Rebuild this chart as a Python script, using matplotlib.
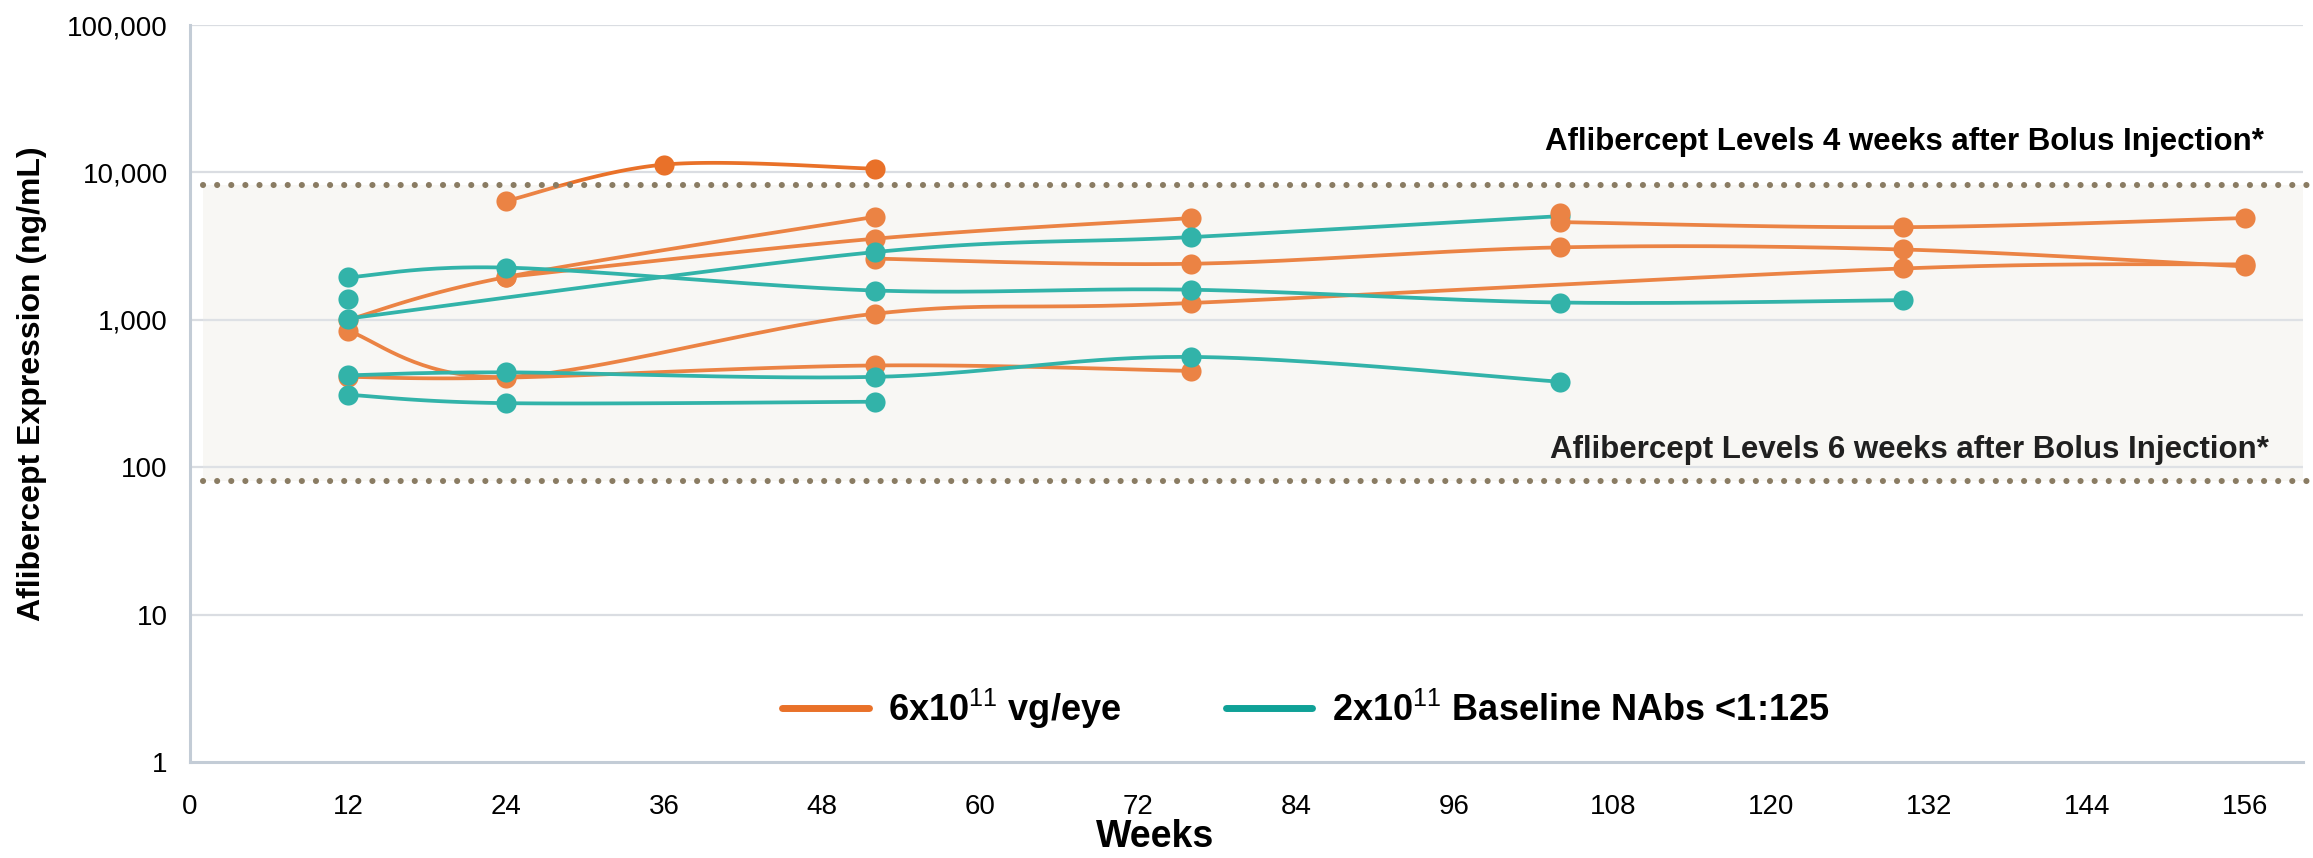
import matplotlib
matplotlib.use("Agg")
import matplotlib.pyplot as plt
import matplotlib.ticker as mticker
from matplotlib.lines import Line2D
import numpy as np

plt.rcParams["font.family"] = ["Liberation Sans", "DejaVu Sans"]
plt.rcParams["mathtext.fontset"] = "custom"
plt.rcParams["mathtext.rm"] = "Liberation Sans"
plt.rcParams["mathtext.bf"] = "Liberation Sans:bold"

ORANGE, TEAL = "#E97129", "#14A89D"
DOT, GRID, SPINE, BAND = "#8A7C63", "#DADDE2", "#C3CCD6", "#F7F6F3"

# 6x10^11 vg/eye patients (weeks, ng/mL)
o1_wk, o1_val = [24, 36, 52], [6400, 11300, 10600]
o2_wk, o2_val = [12, 24, 52], [1000, 1950, 5000]
o3_wk, o3_val = [24, 52, 76], [1950, 3550, 4900]
o4_wk, o4_val = [52, 76, 104, 130, 156], [2600, 2400, 3100, 3000, 2300]
o5_wk, o5_val = [12, 24, 52, 76, 130, 156], [840, 410, 1100, 1300, 2230, 2380]
o6_wk, o6_val = [12, 24, 52, 76], [410, 405, 490, 450]
o7_wk, o7_val = [104, 130, 156], [4600, 4250, 4900]
o8_wk, o8_val = [104], [5300]

# 2x10^11 baseline NAbs <1:125 patients
t1_wk, t1_val = [12, 24, 52, 76, 104, 130], [1940, 2260, 1580, 1600, 1310, 1360]
t2_wk, t2_val = [12], [1390]
t3_wk, t3_val = [12, 52, 76, 104], [1020, 2880, 3640, 5050]
t4_wk, t4_val = [12, 24, 52, 76, 104], [420, 440, 410, 560, 380]
t5_wk, t5_val = [12, 24, 52], [310, 272, 278]

upper_ref, lower_ref = 8150, 81
x_ticks = list(range(0, 157, 12))
y_ticks = [1, 10, 100, 1000, 10000, 100000]


def smooth(wk, val, n=40):
    """Excel-style smoothed line (Catmull-Rom bezier) in x / log10(y) space."""
    x = np.asarray(wk, float)
    y = np.log10(np.asarray(val, float))
    if len(x) < 3:
        return x, 10 ** y
    px, py = [], []
    for i in range(len(x) - 1):
        p0 = (x[max(i - 1, 0)], y[max(i - 1, 0)])
        p1, p2 = (x[i], y[i]), (x[i + 1], y[i + 1])
        p3 = (x[min(i + 2, len(x) - 1)], y[min(i + 2, len(x) - 1)])
        c1 = (p1[0] + (p2[0] - p0[0]) / 6, p1[1] + (p2[1] - p0[1]) / 6)
        c2 = (p2[0] - (p3[0] - p1[0]) / 6, p2[1] - (p3[1] - p1[1]) / 6)
        t = np.linspace(0, 1, n)
        for k in range(2):
            b = ((1 - t) ** 3 * p1[k] + 3 * (1 - t) ** 2 * t * c1[k]
                 + 3 * (1 - t) * t ** 2 * c2[k] + t ** 3 * p2[k])
            (px if k == 0 else py).extend(b)
    return np.array(px), 10 ** np.array(py)


fig = plt.figure(figsize=(23.13, 8.58), dpi=100)
ax = fig.add_axes([190 / 2313, 96 / 858, 2113 / 2313, 737 / 858])
ax.set_yscale("log")
ax.set_xlim(0, 160.4)
ax.set_ylim(1, 100000)

ax.axhspan(lower_ref, upper_ref, xmin=0.006, xmax=1, color=BAND, zorder=0, lw=0)
for yv in y_ticks[1:]:
    ax.axhline(yv, color=GRID, lw=1.6, zorder=0.5)

series = [(o1_wk, o1_val, ORANGE), (o2_wk, o2_val, ORANGE), (o3_wk, o3_val, ORANGE),
          (o4_wk, o4_val, ORANGE), (o5_wk, o5_val, ORANGE), (o6_wk, o6_val, ORANGE),
          (t1_wk, t1_val, TEAL), (t2_wk, t2_val, TEAL), (t3_wk, t3_val, TEAL),
          (t4_wk, t4_val, TEAL), (t5_wk, t5_val, TEAL),
          (o7_wk, o7_val, ORANGE), (o8_wk, o8_val, ORANGE)]
z = 2
for wk, val, col in series:
    sx, sy = smooth(wk, val)
    ax.plot(sx, sy, color=col, lw=2.7, zorder=z, solid_capstyle="round")
    ax.plot(wk, val, "o", color=col, ms=14.5, mec="none", zorder=z + 0.5)
    z += 1

# light veil over the reference band (lines inside it look paler)
ax.axhspan(lower_ref, upper_ref, xmin=0.006, xmax=1, color="white", alpha=0.13,
           zorder=50, lw=0)

for yv in (upper_ref, lower_ref):
    ax.plot([1.0, 161.3], [yv, yv], color=DOT, lw=4.4, ls=(0, (0.01, 2.3)),
            dash_capstyle="round", zorder=51, clip_on=False)

ax.text(157.4, 16000, "Aflibercept Levels 4 weeks after Bolus Injection*",
        ha="right", va="center", fontsize=22.5, fontweight="bold", color="black")
ax.text(157.8, 130, "Aflibercept Levels 6 weeks after Bolus Injection*",
        ha="right", va="center", fontsize=22.5, fontweight="bold", color="black")

ax.set_xticks(x_ticks)
ax.set_yticks(y_ticks)
ax.yaxis.set_major_formatter(mticker.FuncFormatter(lambda v, p: f"{int(v):,}"))
ax.yaxis.set_minor_locator(mticker.NullLocator())
ax.tick_params(axis="both", length=0, labelsize=20, colors="black")
ax.tick_params(axis="x", pad=23)
ax.tick_params(axis="y", pad=16)
for s in ("top", "right"):
    ax.spines[s].set_visible(False)
for s in ("left", "bottom"):
    ax.spines[s].set_color(SPINE)
    ax.spines[s].set_linewidth(2.2)

fig.text(32 / 2313, 0.553, "Aflibercept Expression (ng/mL)", rotation=90,
         ha="center", va="center", fontsize=23, fontweight="bold")
fig.text(0.4994, 0.003, "Weeks", ha="center", va="bottom", fontsize=27,
         fontweight="bold")

handles = [Line2D([], [], color=ORANGE, lw=5, solid_capstyle="round"),
           Line2D([], [], color="#0FA197", lw=5, solid_capstyle="round")]
labels = [r"6x10$^{\mathrm{11}}$ vg/eye", r"2x10$^{\mathrm{11}}$ Baseline NAbs <1:125"]
leg = ax.legend(handles, labels, loc="center left", bbox_to_anchor=(0.2802, 0.072),
                ncol=2, frameon=False, handlelength=2.4, handletextpad=0.53,
                columnspacing=2.9, borderpad=0, borderaxespad=0,
                prop={"size": 26, "weight": "bold"})

fig.savefig("out.png", dpi=100, facecolor="white")
